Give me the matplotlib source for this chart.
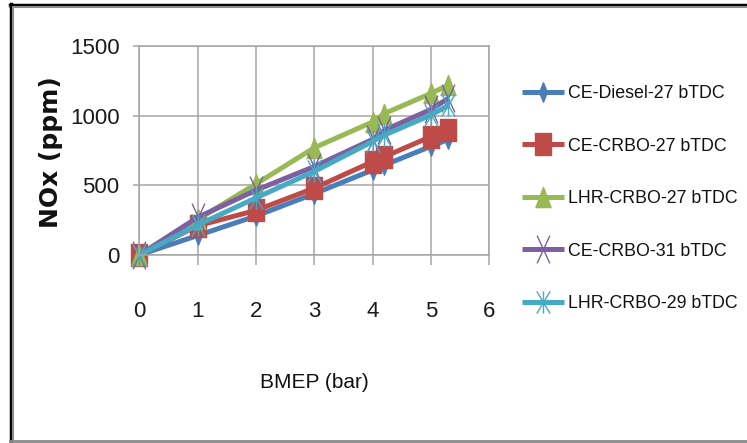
import matplotlib
matplotlib.use('Agg')
import matplotlib.pyplot as plt
from matplotlib.path import Path
from matplotlib.lines import Line2D

# data
bmep = [0, 1, 2, 3, 4, 4.2, 5, 5.3]
ce_diesel_27 = [0, 140, 280, 440, 610, 645, 780, 830]
ce_crbo_27 = [0, 210, 320, 480, 670, 705, 850, 895]
lhr_crbo_27 = [0, 255, 510, 770, 955, 1015, 1160, 1220]
ce_crbo_31 = [0, 270, 465, 635, 830, 895, 1045, 1125]
lhr_crbo_29 = [0, 215, 410, 600, 815, 860, 1005, 1075]

labels = ['CE-Diesel-27 bTDC', 'CE-CRBO-27 bTDC', 'LHR-CRBO-27 bTDC',
          'CE-CRBO-31 bTDC', 'LHR-CRBO-29 bTDC']
x_ticks = [0, 1, 2, 3, 4, 5, 6]
y_ticks = [0, 500, 1000, 1500]

plt.rcParams['font.family'] = ['Liberation Sans', 'DejaVu Sans']

# markers look stretched vertically in the original picture
M, L, C = Path.MOVETO, Path.LINETO, Path.CLOSEPOLY
diamond = Path([(0, 1), (0.4, 0), (0, -1), (-0.4, 0), (0, 1)], [M, L, L, L, C])
square = Path([(-0.68, -1), (0.68, -1), (0.68, 1), (-0.68, 1), (-0.68, -1)], [M, L, L, L, C])
triangle = Path([(0, 1), (0.75, -1), (-0.75, -1), (0, 1)], [M, L, L, C])
cross = Path([(-0.46, -1), (0.46, 1), (-0.46, 1), (0.46, -1)], [M, L, M, L])
star = Path([(-0.6, -1), (0.6, 1), (-0.6, 1), (0.6, -1), (0, -1), (0, 1)], [M, L, M, L, M, L])

series = [
    (ce_diesel_27, '#4A7EBB', diamond, 14, 1),
    (ce_crbo_27, '#BE4B48', square, 16, 1),
    (lhr_crbo_27, '#98B954', triangle, 14.5, 1),
    (ce_crbo_31, '#7D60A0', cross, 20, 1.0),
    (lhr_crbo_29, '#46AAC5', star, 16, 1.0),
]

fig = plt.figure(figsize=(7.47, 4.43), dpi=100)
W, H = 747.0, 443.0
ax = fig.add_axes([139.3 / W, 1 - 255 / H, 350 / W, 209 / H])

for (vals, col, mk, ms, mew), lab in zip(series, labels):
    ax.plot(bmep, vals, color=col, lw=3.6, marker=mk, ms=ms,
            mfc=col, mec=col, mew=mew, label=lab, clip_on=False,
            solid_capstyle='butt')

grid_col = '#a6a6a6'
ax.set_xlim(0, 6)
ax.set_ylim(0, 1500)
ax.set_xticks(x_ticks)
ax.set_yticks(y_ticks)
ax.grid(True, color=grid_col, lw=1.1)
ax.set_axisbelow(True)
for s in ax.spines.values():
    s.set_color(grid_col)
    s.set_linewidth(1.1)
ax.tick_params(axis='x', length=7, width=1.1, color=grid_col, pad=26,
               labelsize=16, labelcolor='#1a1a1a')
ax.tick_params(axis='y', length=4.3, width=1.1, color=grid_col, pad=10,
               labelsize=16, labelcolor='#1a1a1a')

fig.text(314 / W, 1 - 383 / H, 'BMEP (bar)', ha='center', va='center',
         fontsize=15, color='#111111')
fig.text(51 / W, 1 - 152 / H, 'NOx (ppm)', ha='center', va='center',
         rotation=90, fontsize=18, fontweight='bold', family='DejaVu Sans',
         color='#111111')

leg = ax.legend(loc='upper left', bbox_to_anchor=(522 / W, 1 - 85 / H),
                bbox_transform=fig.transFigure, frameon=False, fontsize=12.8,
                handlelength=2.35, handletextpad=0.25, labelspacing=2.0,
                borderpad=0, borderaxespad=0)
for t in leg.get_texts():
    t.set_color('#111111')

# outer frame of the picture
fig.add_artist(Line2D([9.5 / W, 1], [1 - 4.5 / H, 1 - 4.5 / H], color='black', lw=2.5,
                      transform=fig.transFigure))
fig.add_artist(Line2D([9.5 / W, 1], [1 - 7 / H, 1 - 7 / H], color='#8c8c8c', lw=1.5,
                      transform=fig.transFigure))
fig.add_artist(Line2D([10.5 / W, 10.5 / W], [1 - 3.5 / H, 1 - 441 / H], color='black', lw=2.5,
                      transform=fig.transFigure))
fig.add_artist(Line2D([13 / W, 13 / W], [1 - 7 / H, 1 - 440 / H], color='#8c8c8c', lw=1.5,
                      transform=fig.transFigure))
fig.add_artist(Line2D([9.5 / W, 1], [1 - 441 / H, 1 - 441 / H], color='#8c8c8c', lw=2,
                      transform=fig.transFigure))

fig.savefig('out.png', dpi=100)
